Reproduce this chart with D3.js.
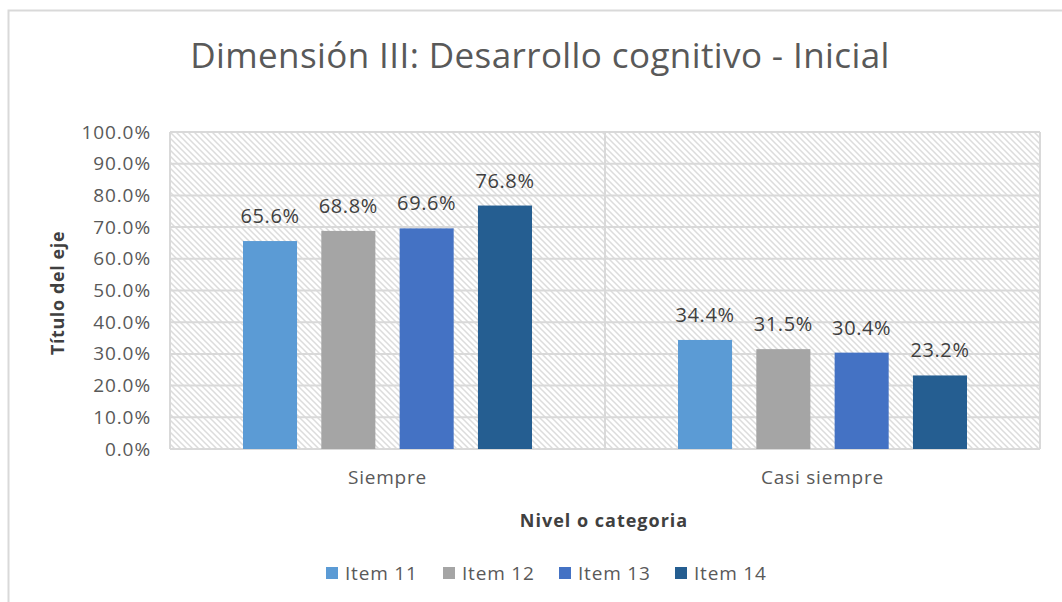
<!DOCTYPE html>
<html>
<head>
<meta charset="utf-8">
<script src="https://cdn.jsdelivr.net/npm/d3@7"></script>
<style>
  body { margin: 0; background: #fff; }
  text { font-family: "Open Sans", "Noto Sans", sans-serif; }
</style>
</head>
<body>
<div class="canvas"></div>
<script>
const categories = ['Siempre', 'Casi siempre'];
const series = ['Item 11', 'Item 12', 'Item 13', 'Item 14'];
const siempre = [65.6, 68.8, 69.6, 76.8];
const casiSiempre = [34.4, 31.5, 30.4, 23.2];
const colors = ['#5B9BD5', '#A5A5A5', '#4472C4', '#255E91'];
const yTicks = [0, 10, 20, 30, 40, 50, 60, 70, 80, 90, 100];

const values = [siempre, casiSiempre];
const data = [];
categories.forEach((c, i) => series.forEach((s, j) => data.push({cat: c, item: s, value: values[i][j]})));

const width = 1062, height = 602;
const margin = {top: 132, right: 22, bottom: 153, left: 170};
const graphWidth = width - margin.left - margin.right;
const graphHeight = height - margin.top - margin.bottom;

const svg = d3.select('.canvas')
  .append('svg')
    .attr('width', width)
    .attr('height', height);

// chart frame
svg.append('rect')
  .attr('x', 8.5).attr('y', 10.5)
  .attr('width', 1080).attr('height', 620)
  .attr('fill', '#fff')
  .attr('stroke', '#d9d9d9')
  .attr('stroke-width', 2);

const defs = svg.append('defs');
const pat = defs.append('pattern')
  .attr('id', 'hatch')
  .attr('patternUnits', 'userSpaceOnUse')
  .attr('width', 6).attr('height', 6);
pat.append('rect').attr('width', 6).attr('height', 6).attr('fill', '#fff');
pat.append('path')
  .attr('d', 'M-1,-1 L7,7 M-1,5 L1,7 M5,-1 L7,1')
  .attr('stroke', '#dcdcdc')
  .attr('stroke-width', 1.5);

svg.append('text')
  .attr('x', 540).attr('y', 68)
  .attr('text-anchor', 'middle')
  .attr('font-size', 35)
  .attr('letter-spacing', 0.4)
  .attr('fill', '#595959')
  .text('Dimensión III: Desarrollo cognitivo - Inicial');

const graph = svg.append('g')
  .attr('transform', `translate(${margin.left}, ${margin.top})`);

const y = d3.scaleLinear()
  .domain([0, 100])
  .range([graphHeight, 0]);

const x = d3.scaleBand()
  .domain(categories)
  .range([0, graphWidth])
  .padding(0);

const inset = 73;
const xs = d3.scaleBand()
  .domain(series)
  .range([inset, x.bandwidth() - inset])
  .paddingInner(0.31);

const color = d3.scaleOrdinal().domain(series).range(colors);

graph.append('rect')
  .attr('width', graphWidth)
  .attr('height', graphHeight)
  .attr('fill', 'url(#hatch)');

graph.selectAll('.grid')
  .data(yTicks)
  .enter().append('line')
    .attr('x1', 0).attr('x2', graphWidth)
    .attr('y1', d => y(d)).attr('y2', d => y(d))
    .attr('stroke', '#d9d9d9')
    .attr('stroke-width', 2);

// category dividers
graph.selectAll('.vdiv')
  .data(categories.concat(['end']))
  .enter().append('line')
    .attr('x1', (d, i) => i * x.bandwidth())
    .attr('x2', (d, i) => i * x.bandwidth())
    .attr('y1', 0).attr('y2', graphHeight)
    .attr('stroke', '#d9d9d9')
    .attr('stroke-width', 2);

graph.selectAll('.bar')
  .data(data)
  .enter().append('rect')
    .attr('x', d => x(d.cat) + xs(d.item))
    .attr('y', d => y(d.value))
    .attr('width', xs.bandwidth())
    .attr('height', d => graphHeight - y(d.value))
    .attr('fill', d => color(d.item));

graph.selectAll('.lbl')
  .data(data)
  .enter().append('text')
    .attr('x', d => x(d.cat) + xs(d.item) + xs.bandwidth() / 2)
    .attr('y', d => y(d.value) - 18)
    .attr('text-anchor', 'middle')
    .attr('font-size', 20)
    .attr('letter-spacing', 0.6)
    .attr('fill', '#404040')
    .text(d => d.value.toFixed(1) + '%');

const yAxis = d3.axisLeft(y)
  .tickValues(yTicks)
  .tickSize(0)
  .tickPadding(19)
  .tickFormat(d => d.toFixed(1) + '%');

const yAxisGroup = graph.append('g').call(yAxis);
yAxisGroup.select('.domain').remove();
yAxisGroup.selectAll('text')
  .attr('font-size', 19)
  .attr('letter-spacing', 0.9)
  .attr('fill', '#595959')
  .style('font-family', '"Open Sans", sans-serif');

const xAxis = d3.axisBottom(x).tickSize(0).tickPadding(22);
const xAxisGroup = graph.append('g')
  .attr('transform', `translate(0, ${graphHeight})`)
  .call(xAxis);
xAxisGroup.select('.domain').remove();
xAxisGroup.selectAll('text')
  .attr('font-size', 19)
  .attr('letter-spacing', 0.8)
  .attr('fill', '#595959')
  .style('font-family', '"Open Sans", sans-serif');

svg.append('text')
  .attr('transform', 'translate(64, 293) rotate(-90)')
  .attr('text-anchor', 'middle')
  .attr('font-size', 18)
  .attr('font-weight', 'bold')
  .attr('letter-spacing', 0.6)
  .attr('fill', '#404040')
  .text('Título del eje');

svg.append('text')
  .attr('x', 604).attr('y', 527)
  .attr('text-anchor', 'middle')
  .attr('font-size', 18)
  .attr('font-weight', 'bold')
  .attr('letter-spacing', 1)
  .attr('fill', '#404040')
  .text('Nivel o categoria');

// legend
const legendX = [326, 443, 559, 675];
const legend = svg.selectAll('.legend')
  .data(series)
  .enter().append('g')
    .attr('transform', (d, i) => `translate(${legendX[i]}, 573)`);
legend.append('rect')
  .attr('x', 0).attr('y', -6)
  .attr('width', 12).attr('height', 12)
  .attr('fill', d => color(d));
legend.append('text')
  .attr('x', 19).attr('y', 7)
  .attr('font-size', 19)
  .attr('letter-spacing', 0.8)
  .attr('fill', '#595959')
  .text(d => d);
</script>
</body>
</html>
